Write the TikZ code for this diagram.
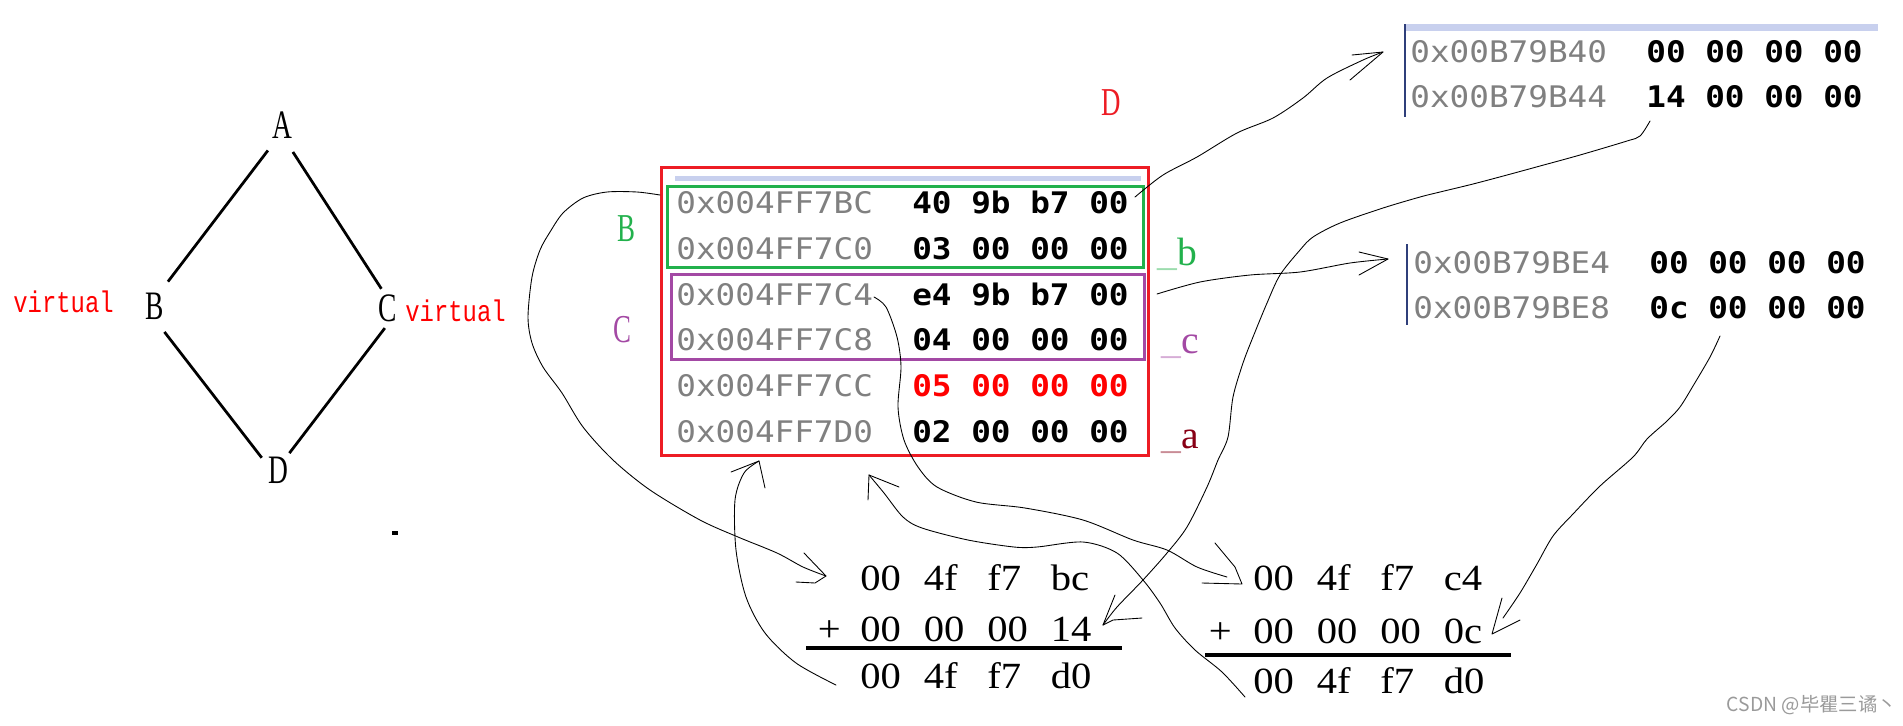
\documentclass[tikz,border=0pt]{standalone}
\usepackage{fontspec}
\newfontfamily\hexfont[FakeStretch=1.1]{DejaVu Sans Mono}
\newfontfamily\sumfont[FakeStretch=1.1]{Liberation Serif}
\newfontfamily\letfont[FakeStretch=0.68]{Liberation Serif}
\newfontfamily\labfont{Liberation Serif}
\newfontfamily\virtfont[FakeStretch=0.8]{Liberation Mono}
\newfontfamily\cjkfont{Noto Sans CJK SC}
\definecolor{addrgray}{HTML}{808080}
\definecolor{boxred}{HTML}{ED1C24}
\definecolor{boxgreen}{HTML}{22B14C}
\definecolor{boxpurple}{HTML}{A349A4}
\definecolor{darkred}{HTML}{880015}
\definecolor{barblue}{HTML}{C8D0EE}
\definecolor{navybar}{HTML}{2F3F7A}
\definecolor{wmgray}{HTML}{9A9A9A}
\newcommand\hx{\phantom{0}}
\newcommand\addr[1]{\textcolor{addrgray}{#1}}
\newcommand\bytes[1]{{\bfseries #1}}
\newcommand\grp[1]{\makebox[1.27cm][l]{#1}}
\begin{document}
\begin{tikzpicture}[x=0.02cm,y=-0.02cm,
  dlet/.style={circle, inner sep=0, font=\letfont\fontsize{23}{26}\selectfont},
  dline/.style={line width=0.055cm},
  virt/.style={anchor=base west, inner sep=0, text=red, font=\virtfont\fontsize{17}{20}\selectfont},
  memframe/.style={draw=#1, line width=0.06cm, anchor=north west, inner sep=0, outer sep=0},
  hexrow/.style={anchor=base west, inner sep=0, font=\hexfont\fontsize{16.9}{20}\selectfont},
  blab/.style={anchor=base west, inner sep=0, font=\letfont\fontsize{22.5}{26}\selectfont},
  slab/.style={anchor=base west, inner sep=0, font=\labfont\fontsize{22.5}{26}\selectfont},
  sumrow/.style={anchor=base west, inner sep=0, font=\sumfont\fontsize{21}{25}\selectfont},
  sumline/.style={line width=0.066cm},
  vbar/.style={navybar, line width=0.045cm},
  hand/.style={line width=0.5pt, line join=round, line cap=round},
  wm/.style={anchor=east, inner sep=0, text=wmgray, font=\cjkfont\fontsize{11}{13}\selectfont}]
\useasboundingbox (0,0) rectangle (1903,725);

% ---------- diamond ----------
\node[dlet, minimum size=1.15cm] (A) at (282,125) {A};
\node[dlet, minimum size=1.09cm] (B) at (155,306) {B};
\node[dlet, minimum size=0.8cm] (C) at (388,308) {C};
\node[dlet, minimum size=0.8cm] (D) at (278,470) {D};
\draw[dline] (A.241) -- (B.62);
\draw[dline] (A.292) -- (C.109);
\draw[dline] (B.290) -- (D.143);
\draw[dline] (C.261) -- (D.56);
\node[virt] (vl) at (13,312) {virtual};
\node[virt] (vr) at (405,321) {virtual};
\fill (392,531) rectangle (398,535);

% ---------- main memory ----------
\fill[barblue] (675,176) rectangle (1141,181);
\node[memframe=boxred, minimum width=9.76cm, minimum height=5.78cm] (mem) at (661,167) {};
\node[memframe=boxgreen, minimum width=9.54cm, minimum height=1.64cm] (grpB) at (667,186) {};
\node[memframe=boxpurple, minimum width=9.48cm, minimum height=1.72cm] (grpC) at (671,274) {};
\node[hexrow] (r1) at (676,213) {\addr{0x004FF7BC}\hx\hx \bytes{40\hx 9b\hx b7\hx 00}};
\node[hexrow] (r2) at (676,259) {\addr{0x004FF7C0}\hx\hx \bytes{03\hx 00\hx 00\hx 00}};
\node[hexrow] (r3) at (676,305) {\addr{0x004FF7C4}\hx\hx \bytes{e4\hx 9b\hx b7\hx 00}};
\node[hexrow] (r4) at (676,350.5) {\addr{0x004FF7C8}\hx\hx \bytes{04\hx 00\hx 00\hx 00}};
\node[hexrow] (r5) at (676,396) {\addr{0x004FF7CC}\hx\hx \textcolor{red}{\bytes{05\hx 00\hx 00\hx 00}}};
\node[hexrow] (r6) at (676,442) {\addr{0x004FF7D0}\hx\hx \bytes{02\hx 00\hx 00\hx 00}};

\node[blab, text=boxgreen] (lB) at (617,241) {B};
\node[blab, text=boxpurple] (lC) at (613,342) {C};
\node[blab, text=boxred] (lD) at (1101,115) {D};
\node[slab] (sb) at (1157,265) {\textcolor{boxgreen!45}{\_}\textcolor{boxgreen}{b}};
\node[slab] (sc) at (1161,353) {\textcolor{boxpurple!45}{\_}\textcolor{boxpurple}{c}};
\node[slab] (sa) at (1161,448) {\textcolor{darkred!45}{\_}\textcolor{darkred}{a}};

% ---------- top-right memory ----------
\fill[barblue] (1406,24) rectangle (1878,31);
\draw[vbar] (1405,24) -- (1405,117);
\node[hexrow] (t1) at (1410,62) {\addr{0x00B79B40}\hx\hx \bytes{00\hx 00\hx 00\hx 00}};
\node[hexrow] (t2) at (1410,107) {\addr{0x00B79B44}\hx\hx \bytes{14\hx 00\hx 00\hx 00}};

% ---------- mid-right memory ----------
\draw[vbar] (1407,244) -- (1407,325);
\node[hexrow] (m1) at (1413,273) {\addr{0x00B79BE4}\hx\hx \bytes{00\hx 00\hx 00\hx 00}};
\node[hexrow] (m2) at (1413,318) {\addr{0x00B79BE8}\hx\hx \bytes{0c\hx 00\hx 00\hx 00}};

% ---------- sums ----------
\node[sumrow] (s1a) at (860,590) {\grp{00}\grp{4f}\grp{f7}bc};
\node[sumrow] (s1b) at (817.6,641) {+\hspace{0.39cm}\grp{00}\grp{00}\grp{00}14};
\draw[sumline] (806,648) -- (1122,648);
\node[sumrow] (s1c) at (860,688) {\grp{00}\grp{4f}\grp{f7}d0};
\node[sumrow] (s2a) at (1253,590) {\grp{00}\grp{4f}\grp{f7}c4};
\node[sumrow] (s2b) at (1208.6,643) {+\hspace{0.43cm}\grp{00}\grp{00}\grp{00}0c};
\draw[sumline] (1205,655) -- (1511,655);
\node[sumrow] (s2c) at (1253,693) {\grp{00}\grp{4f}\grp{f7}d0};

% ---------- hand-drawn arrows ----------
\coordinate (k1a) at (660,195); \coordinate (k1b) at (826,576);
\draw[hand] plot[smooth] coordinates {(k1a) (637,192) (607,192) (583,198) (563,213) (550,232) (540,250) (532,277) (528,317) (532,343) (543,367) (562,393) (583,427) (613,460) (650,490) (700,520) (738,537) (777,553) (803,567) (k1b)};
\draw[hand] (804,553) -- (k1b) -- (815,583) -- (796,582);

\coordinate (k2a) at (874,297); \coordinate (k2b) at (1227,577);
\draw[hand] plot[smooth] coordinates {(k2a) (886,307) (897,337) (901,367) (898,407) (904,440) (918,467) (937,487) (976,502) (1025,508) (1083,520) (1133,540) (1167,550) (1197,567) (k2b)};
\draw[hand] (1215,543) -- (1235,567) -- (1242,584) -- (1202,583);

\coordinate (k3a) at (1245,697); \coordinate (k3b) at (869,475);
\draw[hand] plot[smooth] coordinates {(k3a) (1222,672) (1195,650) (1175,628) (1160,603) (1143,580) (1117,553) (1083,542) (1037,547) (1014,547) (968,540) (922,528) (903,517) (884,493) (k3b)};
\draw[hand] (868,500) -- (k3b) -- (899,487);

\coordinate (k4a) at (836,685); \coordinate (k4b) at (759,461);
\draw[hand] plot[smooth] coordinates {(k4a) (796,663) (765,633) (746,597) (736,550) (735,500) (744,473) (k4b)};
\draw[hand] (731,472) -- (k4b) -- (765,488);

\coordinate (k5a) at (1135,197); \coordinate (k5b) at (1383,52);
\draw[hand] plot[smooth] coordinates {(k5a) (1163,175) (1197,157) (1237,133) (1273,118) (1303,98) (1327,78) (1363,60) (k5b)};
\draw[hand] (1352,55) -- (k5b) -- (1350,80);

\coordinate (k6a) at (1157,294); \coordinate (k6b) at (1388,259);
\draw[hand] plot[smooth] coordinates {(k6a) (1200,282) (1250,275) (1300,272) (1350,263) (k6b)};
\draw[hand] (1359,252) -- (k6b) -- (1359,275);

\coordinate (k7a) at (1650,121); \coordinate (k7b) at (1103,625);
\draw[hand] plot[smooth] coordinates {(k7a) (1640,136) (1627,141) (1580,155) (1540,166) (1507,175) (1473,184) (1440,192) (1420,197) (1383,208) (1340,223) (1313,237) (1300,250) (1280,275) (1267,303) (1253,337) (1243,363) (1233,397) (1228,437) (1218,460) (1207,487) (1187,527) (1167,553) (1143,580) (1117,607) (k7b)};
\draw[hand] (1115,595) -- (k7b) -- (1113,620) -- (1142,618);

\coordinate (k8a) at (1720,336); \coordinate (k8b) at (1503,618); \coordinate (k8t) at (1492,634);
\draw[hand] plot[smooth] coordinates {(k8a) (1710,357) (1693,386) (1680,407) (1667,421) (1647,439) (1633,457) (1600,486) (1573,514) (1553,536) (1537,564) (1520,593) (k8b)};
\draw[hand] (1502,598) -- (k8t) -- (1520,620);

% ---------- watermark ----------
\node[wm] (wmk) at (1897,705) {CSDN @毕瞿三谲丶};
\end{tikzpicture}
\end{document}
